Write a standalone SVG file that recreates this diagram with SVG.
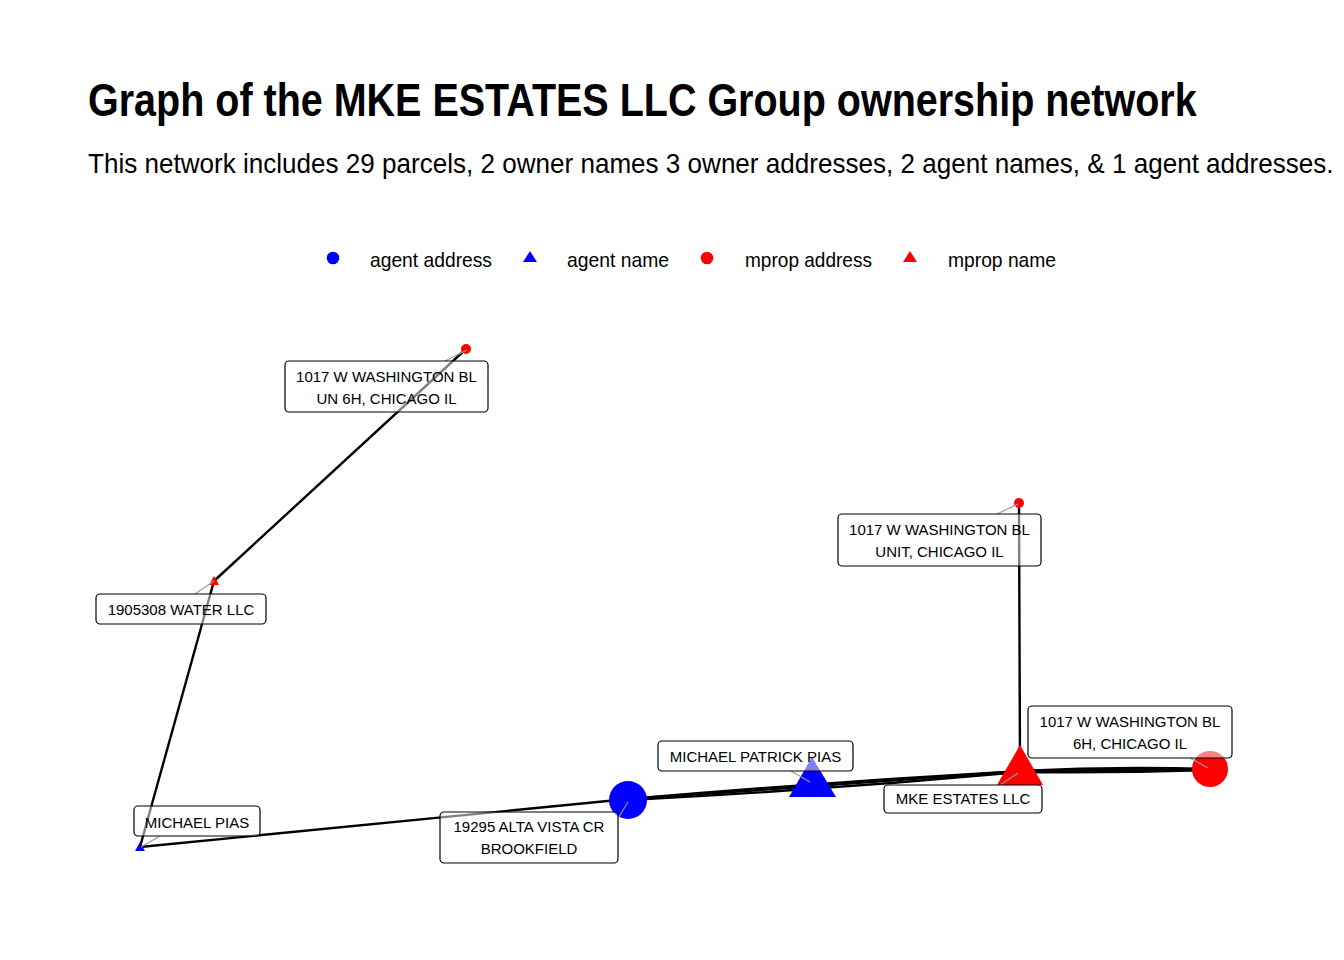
<svg xmlns="http://www.w3.org/2000/svg" width="1344" height="960" viewBox="0 0 1344 960">
<style>
.t{font-family:"Liberation Sans",Arial,sans-serif;fill:#000}
.title{font-size:46px;font-weight:bold}
.sub{font-size:28px}
.leg{font-size:21px}
.lbl{font-size:15px;text-anchor:middle}
.edge{fill:none;stroke:#000;stroke-width:2.4}
.seg{stroke:#999;stroke-width:1.2}
.box{fill:#fff;fill-opacity:0.5;stroke:#000;stroke-width:1.2}
.blue{fill:#0000ff}
.red{fill:#ff0000}
</style>
<rect width="1344" height="960" fill="#fff"/>
<text class="t title" transform="translate(88,116) scale(0.82,1)" x="0" y="0" textLength="1352" lengthAdjust="spacingAndGlyphs">Graph of the MKE ESTATES LLC Group ownership network</text>
<text class="t sub" transform="translate(88,173) scale(0.82,1)" x="0" y="0" textLength="1519" lengthAdjust="spacingAndGlyphs">This network includes 29 parcels, 2 owner names 3 owner addresses, 2 agent names, &amp; 1 agent addresses.</text>
<g id="legend">
<circle class="blue" cx="333" cy="258" r="6.3"/>
<text class="t leg" x="370" y="267" textLength="122" lengthAdjust="spacingAndGlyphs">agent address</text>
<polygon class="blue" points="530,251 537,262 523,262"/>
<text class="t leg" x="567" y="267" textLength="102" lengthAdjust="spacingAndGlyphs">agent name</text>
<circle class="red" cx="707" cy="258" r="6.3"/>
<text class="t leg" x="745" y="267" textLength="127" lengthAdjust="spacingAndGlyphs">mprop address</text>
<polygon class="red" points="910,251 917,262 903,262"/>
<text class="t leg" x="948" y="267" textLength="108" lengthAdjust="spacingAndGlyphs">mprop name</text>
</g>
<g id="connectors">
<line class="edge" x1="466" y1="349" x2="214" y2="581"/>
<line class="edge" x1="214" y1="581" x2="140" y2="847"/>
<line class="edge" x1="140" y1="847" x2="628" y2="799"/>
<path class="edge" d="M628,799 Q824,782 1020,771"/>
<path class="edge" d="M628,799 Q824,786 1020,771"/>
<path class="edge" d="M628,800 Q824,790 1020,772"/>
<path class="edge" d="M1020,771 Q1115,766 1210,769"/>
<path class="edge" d="M1020,771 Q1115,770 1210,769"/>
<path class="edge" d="M1020,772 Q1115,773 1210,770"/>
<line class="edge" x1="1019" y1="503" x2="1020" y2="771"/>
</g>
<g id="n-alta">
<circle class="blue" cx="628" cy="800" r="19"/>
</g>
<g id="n-mpp">
<polygon class="blue" points="812,757 836,797 789,797"/>
</g>
<g id="n-mke">
<polygon class="red" points="1020,745 1043,785 997,785"/>
</g>
<g id="n-6h">
<circle class="red" cx="1210" cy="769" r="18"/>
</g>
<g id="n-un6h">
<circle class="red" cx="466" cy="349" r="5"/>
</g>
<g id="n-unit">
<circle class="red" cx="1019" cy="503" r="5"/>
</g>
<g id="n-water">
<polygon class="red" points="214,576 219,585 209,585"/>
</g>
<g id="n-mpias">
<polygon class="blue" points="140,842 145,851 135,851"/>
</g>
<g id="segments">
<line class="seg" x1="467" y1="350" x2="445" y2="361"/>
<line class="seg" x1="214" y1="581" x2="195" y2="594"/>
<line class="seg" x1="141" y1="847" x2="160" y2="836"/>
<line class="seg" x1="628" y1="802" x2="619" y2="817"/>
<line class="seg" x1="810" y1="782" x2="791" y2="771"/>
<line class="seg" x1="1018" y1="773" x2="1000" y2="785"/>
<line class="seg" x1="1208" y1="768" x2="1190" y2="758"/>
<line class="seg" x1="1018" y1="504" x2="997" y2="514"/>
</g>
<g id="l-un6h">
<rect class="box" x="285" y="361" width="203" height="51" rx="4"/>
<text class="t lbl" x="386.5" y="382">1017 W WASHINGTON BL</text>
<text class="t lbl" x="386.5" y="404">UN 6H, CHICAGO IL</text>
</g>
<g id="l-water">
<rect class="box" x="96" y="594" width="170" height="30" rx="4"/>
<text class="t lbl" x="181" y="615">1905308 WATER LLC</text>
</g>
<g id="l-mpias">
<rect class="box" x="134" y="806" width="126" height="30" rx="4"/>
<text class="t lbl" x="197" y="828">MICHAEL PIAS</text>
</g>
<g id="l-alta">
<rect class="box" x="440" y="812" width="178" height="51" rx="4"/>
<text class="t lbl" x="529" y="832">19295 ALTA VISTA CR</text>
<text class="t lbl" x="529" y="854">BROOKFIELD</text>
</g>
<g id="l-mpp">
<rect class="box" x="658" y="741" width="195" height="30" rx="4"/>
<text class="t lbl" x="755.5" y="762">MICHAEL PATRICK PIAS</text>
</g>
<g id="l-mke">
<rect class="box" x="884" y="785" width="158" height="28" rx="4"/>
<text class="t lbl" x="963" y="804">MKE ESTATES LLC</text>
</g>
<g id="l-6h">
<rect class="box" x="1028" y="706" width="204" height="52" rx="4"/>
<text class="t lbl" x="1130" y="727">1017 W WASHINGTON BL</text>
<text class="t lbl" x="1130" y="749">6H, CHICAGO IL</text>
</g>
<g id="l-unit">
<rect class="box" x="838" y="514" width="203" height="52" rx="4"/>
<text class="t lbl" x="939.5" y="535">1017 W WASHINGTON BL</text>
<text class="t lbl" x="939.5" y="557">UNIT, CHICAGO IL</text>
</g>
</svg>
